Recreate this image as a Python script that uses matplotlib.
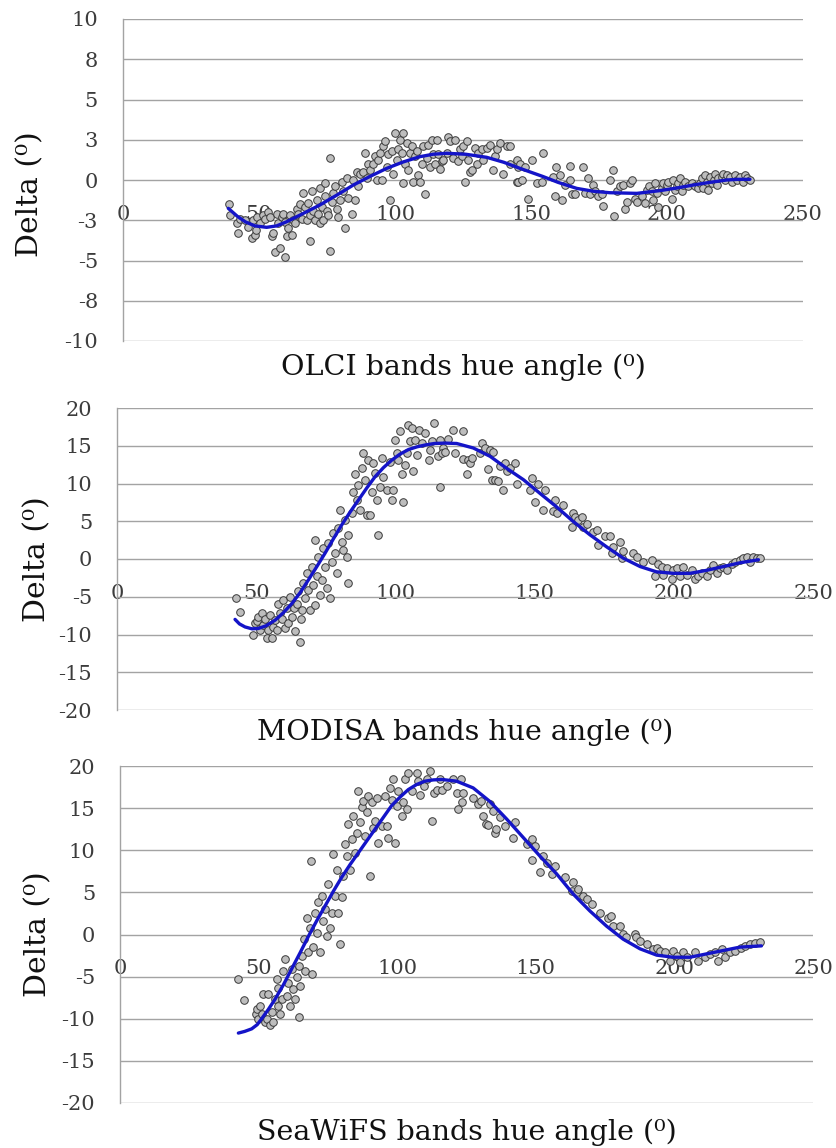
import matplotlib
matplotlib.use("Agg")
import matplotlib.pyplot as plt
from matplotlib.ticker import FixedLocator, FixedFormatter

# ---------------- data ----------------
olci_x = [39.1, 39.3, 41.8, 42.4, 43.0, 44.9, 46.1, 47.3, 47.9, 48.5, 48.9, 49.1, 50.4, 51.6, 52.2, 53.4,
          54.0, 54.7, 55.3, 55.9, 56.5, 57.1, 57.7, 58.3, 59.0, 59.6, 59.6, 60.2, 60.8, 61.4, 62.0, 62.6,
          63.2, 63.8, 64.5, 65.1, 65.7, 66.3, 66.9, 67.5, 68.1, 68.7, 68.7, 69.4, 70.0, 70.6, 71.2, 71.8,
          72.4, 72.4, 73.0, 73.7, 74.3, 74.3, 74.9, 75.5, 76.1, 76.1, 76.7, 77.3, 77.9, 78.5, 79.2, 79.8,
          80.4, 81.0, 81.6, 82.2, 82.8, 84.1, 84.7, 85.3, 85.9, 86.5, 87.1, 88.4, 89.0, 89.6, 90.2, 90.8,
          92.0, 92.6, 93.3, 93.9, 94.5, 95.1, 95.7, 96.3, 96.9, 97.5, 98.2, 98.8, 99.4, 100.0, 100.6, 101.2,
          101.8, 102.4, 102.8, 103.1, 103.7, 104.3, 104.9, 105.5, 106.1, 106.7, 107.4, 108.0, 108.6, 109.2,
          109.8, 110.4, 111.0, 111.6, 112.3, 112.9, 113.5, 114.1, 114.7, 115.3, 115.9, 116.5, 117.2, 117.8,
          119.0, 119.6, 120.2, 121.4, 122.1, 123.3, 123.9, 124.5, 125.1, 125.7, 126.3, 127.0, 127.6, 128.2,
          129.4, 130.0, 130.6, 131.9, 132.5, 133.7, 134.9, 136.2, 136.8, 137.4, 138.6, 139.8, 141.0, 142.3,
          144.7, 145.3,
          142.3, 144.8, 145.4, 146.0, 146.6, 147.8, 149.0, 150.3, 152.1, 153.9, 154.3, 158.2, 158.8, 159.2,
          160.7, 161.3, 162.5, 164.4, 164.4, 165.0, 166.2, 169.3, 169.9, 171.1, 171.7, 172.9, 173.5, 174.8,
          176.0, 176.6, 179.1, 180.3, 180.5, 181.5, 182.7, 184.0, 184.6, 185.2, 186.4, 187.0, 188.3, 188.9,
          190.7, 191.9, 192.5, 193.2, 194.4, 195.0, 195.6, 196.2, 196.8, 198.1, 198.7, 199.3, 199.9, 200.5,
          201.7, 202.3, 203.0, 203.6, 204.2, 204.8, 205.4, 206.0, 206.6, 207.9, 209.1, 210.3, 211.5, 212.2,
          212.8, 213.4, 214.0, 214.6, 215.2, 215.8, 216.4, 217.1, 217.7, 218.3, 218.9, 220.1, 220.7, 221.3,
          222.0, 223.2, 223.8, 225.0, 225.6, 226.9, 228.1, 228.7, 229.3, 230.5]
olci_y = [-1.5, -2.2, -2.7, -3.3, -2.4, -2.5, -2.9, -3.6, -2.5, -3.4, -3.1, -2.3, -2.7, -2.2, -2.4, -2.0,
          -2.3, -3.5, -3.3, -4.5, -2.1, -2.7, -4.2, -2.3, -2.1, -4.8, -2.6, -3.5, -3.0, -2.2, -3.4, -2.5,
          -2.7, -1.8, -2.1, -1.5, -2.4, -0.8, -1.7, -2.5, -1.4, -3.8, -2.2, -0.7, -1.9, -2.5, -1.25, -2.1,
          -0.5, -2.7, -1.7, -2.5, -0.2, -1.0, -1.9, -2.2, 1.35, -4.4, -1.35, -0.8, -0.4, -1.8, -2.3, -1.25,
          -0.1, -0.7, -3.0, 0.1, -1.1, -2.1, 0.0, -1.25, 0.5, -0.4, 0.4, 0.5, 1.7, 0.1, 1.0, 0.6,
          1.0, 1.5, 0.0, 1.25, 1.7, 0.0, 2.1, 2.4, 0.8, 1.6, -1.25, 1.8, 0.4, 2.9, 1.25, 1.9,
          2.5, 1.7, -0.2, 2.9, 1.0, 2.3, 0.6, 1.7, 2.1, -0.1, 1.5, 1.8, 0.3, -0.1,
          1.0, 2.1, -0.9, 1.35, 2.2, 0.8, 2.5, 1.6, 1.0, 2.5, 1.6, 0.7, 1.15, 1.25,
          1.7, 2.7, 2.4, 1.35, 2.5, 1.15, 1.9, 1.5, 2.1, -0.1, 2.4, 1.25, 0.5, 0.6,
          2.0, 1.0, 1.7, 1.9, 1.25, 2.0, 2.2, 0.6, 1.5, 1.9, 2.3, 0.4, 2.1, 1.0,
          -0.1, 0.8,
          2.1, 1.25, -0.1, 1.0, 0.0, 0.8, -1.15, 1.25, -0.2, -0.1, 1.7, 0.2, -1.0, 0.8,
          0.3, -1.25, -0.3, 0.0, 0.9, -0.9, -0.9, 0.8, -0.8, 0.1, -0.9, -0.3, -0.7, -1.0,
          -0.9, -1.6, 0.0, 0.6, -2.25, -0.7, -0.4, -0.3, -1.8, -1.35, -0.2, 0.0, -1.15, -1.35,
          -1.0, -1.45, -0.6, -0.4, -0.7, -1.25, -0.2, -0.8, -1.7, -0.5, -0.2, -0.7, -0.3, -0.1,
          -1.15, 0.0, -0.6, -0.4, -0.2, 0.1, -0.7, -0.3, -0.1, -0.4, -0.2, -0.4, -0.5, -0.2,
          0.1, -0.5, 0.3, -0.1, -0.6, 0.2, -0.2, 0.0, 0.4, -0.3, 0.1, 0.2, 0.4, 0.0,
          0.3, 0.2, -0.1, 0.3, 0.0, 0.2, -0.1, 0.3, 0.1, 0.0]
olci_fit_x = [38.7, 42.0, 45.0, 48.5, 52.8, 56.5, 60.2, 66.0, 72.4, 78.5, 84.7, 90.8, 96.9, 103.0, 109.2,
              114.0, 119.0, 126.0, 133.7, 140.0, 146.0, 154.5, 160.0, 166.8, 173.0, 179.0, 188.9,
              197.4, 203.5, 209.7, 216.0, 222.0, 226.0, 230.5]
olci_fit_y = [-1.76, -2.25, -2.6, -2.85, -2.94, -2.85, -2.59, -2.1, -1.55, -0.95, -0.31, 0.22, 0.72, 1.12,
              1.45, 1.6, 1.66, 1.6, 1.41, 1.1, 0.72, 0.21, -0.15, -0.52, -0.7, -0.79, -0.83,
              -0.66, -0.5, -0.31, -0.14, 0.0, 0.04, 0.04]

modis_x = [42.6, 44.2, 49.0, 49.6, 50.2, 50.8, 51.4, 52.0, 52.6, 53.2, 53.8, 54.4, 55.0, 55.6, 56.2, 56.8,
           57.4, 58.0, 58.6, 59.2, 59.8, 60.4, 61.0, 61.6, 62.2, 62.8, 63.4, 64.0, 64.5, 65.1, 65.7, 66.1,
           66.3, 66.9, 67.5, 68.1, 68.7, 69.3, 69.9, 70.5, 71.1, 71.1, 71.7, 72.3, 72.9, 73.5, 74.1, 74.7,
           75.3, 75.9, 76.5, 77.1, 77.7, 78.3, 78.9, 79.5, 80.1, 80.7, 81.3, 81.9, 82.5, 82.9, 83.1, 84.3,
           84.9, 85.5, 86.1, 86.7, 87.3, 87.9, 88.5, 89.1, 89.7, 90.3, 90.9, 91.5, 92.1, 92.7, 93.3, 93.9,
           94.5, 95.1, 95.7, 96.9, 98.1, 98.7, 99.3, 99.9, 100.5, 101.1, 101.7, 102.3, 102.9, 103.5, 104.1,
           104.4, 105.3, 105.9, 106.5, 107.1, 107.7, 108.3, 109.5, 110.7, 111.9, 112.5, 113.1, 113.7, 115.4,
           116.0, 117.2,
           116.0, 116.6, 117.8, 119.0, 120.8, 121.4, 124.4, 124.4, 125.6, 126.2, 126.8, 127.4, 130.4, 131.0,
           132.2, 133.4, 134.0, 134.6, 135.2, 135.8, 137.0, 137.6, 138.8, 139.4, 140.0, 141.1, 142.9, 143.5,
           148.3, 148.9, 150.1, 151.3, 153.1, 153.7, 156.7, 157.3, 157.9, 160.3, 163.3, 163.9, 164.5, 165.7,
           166.9, 167.5, 168.7, 171.1, 172.3, 172.9, 175.3, 177.1, 177.7, 178.3, 180.7, 181.3, 181.9, 185.5,
           186.7, 189.1, 192.0, 193.2, 194.4, 195.6, 196.2, 197.4, 199.2, 199.8, 201.0, 202.2, 203.4, 204.6,
           206.4, 207.6, 208.8, 210.0, 211.8, 213.0, 214.2, 215.4, 216.6, 217.8, 219.0, 220.8, 222.0, 223.8,
           225.0, 226.2, 227.4, 228.6, 229.8, 231.0]
modis_y = [-5.1, -7.0, -10.1, -8.5, -8.2, -7.7, -9.4, -7.2, -8.8, -7.9, -10.5, -9.4, -7.4, -10.5, -9.0, -8.1,
           -9.4, -5.9, -7.2, -7.9, -5.4, -9.2, -6.5, -8.5, -5.0, -7.7, -6.5, -9.6, -5.9, -4.3, -11.0, -7.9,
           -6.8, -3.2, -5.2, -1.9, -4.1, -6.8, -1.0, -3.5, 2.5, -6.1, -2.3, 0.3, -4.8, -2.8, 1.4, -1.0,
           -3.9, 2.1, -5.2, -0.35, 3.4, 0.75, -1.9, 4.1, 6.5, 2.3, 1.2, 5.2, 0.3, -3.2, 3.2, 6.1,
           8.9, 11.2, 7.8, 9.8, 6.5, 12.0, 14.0, 10.5, 5.8, 13.1, 5.8, 8.9, 12.7, 11.4, 7.8, 3.2,
           9.6, 13.4, 10.9, 9.2, 12.9, 7.8, 9.2, 15.8, 14.0, 13.1, 16.9, 11.2, 7.6, 12.5, 14.0,
           17.8, 15.6, 17.3, 11.6, 15.8, 13.8, 17.1, 15.4, 16.7, 13.1, 14.5, 15.6, 18.0, 13.6,
           9.6, 14.7,
           15.8, 14.0, 14.2, 15.9, 17.1, 14.1, 17.0, 13.2, 11.2, 13.1, 12.7, 13.4, 14.0, 15.4,
           14.7, 11.9, 14.5, 10.5, 14.2, 10.4, 10.3, 12.3, 9.2, 12.7, 11.6, 12.0, 12.7, 10.0,
           9.2, 10.7, 7.6, 10.0, 6.5, 9.2, 6.3, 7.8, 6.1, 7.2, 4.3, 6.1, 5.6, 5.2,
           5.6, 4.3, 4.7, 3.6, 3.8, 1.9, 3.0, 3.1, 0.75, 1.6, 2.2, 0.1, 1.0, 0.75,
           0.3, -0.35, -0.1, -2.3, -0.6, -1.0, -2.1, -1.2, -2.6, -1.5, -1.2, -2.3, -1.0, -2.1,
           -1.5, -2.6, -2.3, -1.9, -2.3, -1.5, -0.8, -1.9, -1.2, -1.0, -1.5, -0.6, -0.35, -0.1,
           0.1, 0.3, -0.35, 0.3, 0.1, 0.1]
modis_fit_x = [42.4, 44.0, 46.0, 48.5, 50.8, 53.5, 56.8, 59.8, 62.8, 65.8, 68.7, 71.7, 74.7, 77.7, 80.7,
               83.7, 86.7, 89.7, 92.7, 95.7, 98.7, 101.7, 104.7, 107.7, 110.7, 114.0, 117.8,
               122.0, 128.0, 134.0, 140.0, 146.0, 151.9, 157.9, 163.9, 169.9, 175.9, 181.9, 187.9,
               193.8, 199.8, 205.8, 211.8, 217.8, 223.8, 230.4]
modis_fit_y = [-8.0, -8.6, -9.0, -9.25, -9.2, -8.85, -8.1, -7.1, -5.9, -4.45, -2.8, -1.05, 0.75, 2.65, 4.5,
               6.2, 7.8, 9.4, 10.9, 12.1, 13.1, 13.9, 14.5, 14.85, 15.1, 15.3, 15.35,
               15.3, 14.7, 13.6, 12.0, 10.5, 8.7, 6.9, 4.96, 3.2, 1.6, 0.1, -1.0,
               -1.7, -1.9, -1.9, -1.5, -1.0, -0.5, -0.1]

seawifs_x = [42.7, 44.9, 49.0, 49.3, 49.9, 50.5, 51.1, 51.7, 52.3, 52.9, 53.5, 54.1, 54.7, 55.3, 55.9, 56.5,
             56.9, 57.1, 57.7, 58.3, 58.9, 59.5, 60.1, 60.7, 61.3, 61.9, 62.5, 63.2, 63.8, 64.4, 64.6, 65.0,
             65.6, 66.2, 66.8, 67.4, 68.0, 68.6, 68.9, 69.2, 69.8, 70.4, 71.0, 71.6, 72.2, 72.8, 73.4, 74.0,
             74.6, 75.2, 75.8, 76.4, 77.0, 77.6, 78.2, 78.8, 79.4, 80.0, 80.6, 81.2, 81.8, 82.4, 83.0, 83.6,
             84.2, 84.8, 85.4, 86.0, 86.6, 87.2, 87.8, 88.4, 89.0, 89.6, 90.2, 90.8, 91.4, 92.0, 92.6, 93.2,
             94.4, 95.6, 96.2, 96.8, 97.4, 98.0, 98.6, 99.2, 99.8, 100.4, 101.6, 102.2, 102.8, 103.4, 104.0,
             105.2, 107.0, 107.6, 108.2, 109.5, 110.7, 111.9, 112.5, 113.1, 114.3, 115.5,
             116.0, 117.8, 120.2, 121.4, 122.0, 122.9, 123.2, 123.8, 127.4, 129.2, 130.4, 131.0, 132.2, 132.8,
             133.4, 134.6, 135.2, 135.8, 137.0, 138.9, 141.9, 142.5, 146.7, 148.5, 148.8, 149.7, 151.5, 152.7,
             153.9, 155.7, 156.9, 160.5, 162.9, 163.5, 164.7, 165.3, 167.1, 168.3, 170.1, 173.1, 176.1, 177.3,
             177.9, 180.3, 181.5, 182.7, 185.7, 186.3, 187.5, 190.0, 192.4, 193.6, 194.8, 196.6, 198.4, 199.6,
             200.8, 202.0, 203.2, 204.4, 207.4, 208.6, 211.0, 212.8, 214.6, 215.8, 217.0, 218.2, 220.0, 221.8,
             224.0, 225.4, 227.2, 229.0, 230.8]
seawifs_y = [-5.3, -7.8, -9.4, -8.9, -10.0, -8.5, -9.4, -7.1, -10.4, -10.0, -7.1, -10.8, -9.2, -10.4, -7.7, -5.3,
             -8.5, -6.3, -9.4, -7.7, -4.3, -2.9, -7.3, -5.7, -8.5, -4.1, -6.5, -7.7, -5.1, -9.8, -3.7, -6.1,
             -2.5, -0.55, -4.3, 2.0, -2.1, 0.8, 8.7, -4.7, -1.5, 2.6, 0.2, 3.8, -2.1, 4.6, 1.6, 3.0,
             -0.15, 6.0, 0.8, 2.6, 9.5, 4.6, 7.7, 2.6, -1.15, 4.4, 7.0, 10.7, 9.3, 13.1, 7.7, 11.3,
             14.1, 9.7, 12.1, 17.0, 13.3, 15.1, 15.8, 11.7, 14.5, 16.4, 7.0, 15.7, 12.7, 13.5, 16.2, 10.9,
             12.9, 16.4, 12.9, 11.5, 17.4, 16.0, 18.4, 10.9, 15.3, 17.0, 14.1, 15.7, 18.4, 14.9, 19.2,
             17.0, 19.2, 18.2, 16.6, 17.6, 18.4, 19.4, 13.5, 16.8, 17.2, 18.4,
             17.2, 17.6, 18.4, 16.8, 14.9, 18.5, 15.7, 16.8, 16.2, 15.5, 15.8, 14.1, 13.1, 13.0,
             15.5, 14.7, 12.1, 12.5, 13.9, 12.9, 11.5, 13.3, 10.7, 11.3, 8.8, 10.5, 7.4, 9.3,
             8.5, 7.2, 8.1, 6.8, 5.2, 6.2, 5.0, 5.4, 4.6, 4.2, 3.6, 2.6, 2.0, 2.2,
             1.0, 1.0, 0.05, -0.35, 0.05, -0.35, -0.75, -1.15, -1.7, -1.55, -1.9, -2.1, -3.1, -1.9,
             -2.5, -3.3, -2.1, -2.7, -2.1, -3.1, -2.7, -2.3, -2.1, -3.1, -1.7, -2.7, -2.1, -1.9,
             -1.55, -1.35, -1.15, -0.95, -0.9]
seawifs_fit_x = [42.7, 45.0, 47.5, 49.5, 51.1, 53.5, 55.9, 58.9, 61.9, 65.0, 68.0, 71.0, 74.0, 77.0, 80.0,
                 83.0, 86.0, 89.0, 92.0, 95.0, 98.0, 101.0, 104.0, 107.0, 110.0, 113.0, 116.1,
                 121.4, 127.4, 133.4, 139.5, 145.5, 151.5, 157.5, 163.5, 169.5, 175.5, 181.5, 187.6,
                 193.6, 199.6, 205.6, 211.6, 217.6, 223.6, 231.4]
seawifs_fit_y = [-11.7, -11.5, -11.2, -10.7, -10.0, -8.9, -7.7, -6.0, -4.1, -2.15, -0.2, 1.65, 3.4, 5.15, 6.8,
                 8.3, 9.7, 11.1, 12.5, 13.9, 15.3, 16.3, 17.2, 17.8, 18.2, 18.35, 18.4,
                 18.2, 17.4, 15.8, 13.7, 11.5, 9.3, 7.2, 4.8, 2.8, 1.0, -0.55, -1.7,
                 -2.45, -2.7, -2.7, -2.3, -1.9, -1.5, -1.35]

x_ticks = [0, 50, 100, 150, 200, 250]
x_tick_labels = ["0", "50", "100", "150", "200", "250"]
olci_y_ticks = [-10, -7.5, -5, -2.5, 0, 2.5, 5, 7.5, 10]
olci_y_labels = ["-10", "-8", "-5", "-3", "0", "3", "5", "8", "10"]
big_y_ticks = [-20, -15, -10, -5, 0, 5, 10, 15, 20]
big_y_labels = ["-20", "-15", "-10", "-5", "0", "5", "10", "15", "20"]
titles = ["OLCI bands hue angle (\u2070)", "MODISA bands hue angle (\u2070)",
          "SeaWiFS bands hue angle (\u2070)"]
ylabel = "Delta (\u2070)"

# ---------------- figure ----------------
plt.rcParams['font.family'] = ['DejaVu Serif']
W, H = 836, 1148
fig = plt.figure(figsize=(W / 100, H / 100), dpi=100)

panels = [
    dict(rect=(123, 19, 803, 341), x=olci_x, y=olci_y, fx=olci_fit_x, fy=olci_fit_y,
         yt=olci_y_ticks, yl=olci_y_labels, lim=(-10, 10), title=titles[0],
         ylab_xy=(30, 194), title_base=375),
    dict(rect=(117, 408, 813, 710), x=modis_x, y=modis_y, fx=modis_fit_x, fy=modis_fit_y,
         yt=big_y_ticks, yl=big_y_labels, lim=(-20, 20), title=titles[1],
         ylab_xy=(37, 559), title_base=740),
    dict(rect=(120, 766, 813, 1103), x=seawifs_x, y=seawifs_y, fx=seawifs_fit_x, fy=seawifs_fit_y,
         yt=big_y_ticks, yl=big_y_labels, lim=(-20, 20), title=titles[2],
         ylab_xy=(38, 934), title_base=1140),
]

grid_col = '#a3a3a3'
tick_col = '#3c3c3c'
for p in panels:
    l, t, r, b = p['rect']
    ax = fig.add_axes([l / W, 1 - b / H, (r - l) / W, (b - t) / H])
    ax.set_xlim(0, 250)
    ax.set_ylim(*p['lim'])
    ax.set_axisbelow(True)
    ax.yaxis.set_major_locator(FixedLocator(p['yt']))
    ax.yaxis.set_major_formatter(FixedFormatter(p['yl']))
    ax.xaxis.set_major_locator(FixedLocator(x_ticks))
    ax.xaxis.set_major_formatter(FixedFormatter(x_tick_labels))
    ax.grid(axis='y', color=grid_col, lw=1.0)
    for s in ['top', 'right']:
        ax.spines[s].set_visible(False)
    ax.spines['bottom'].set_position(('data', 0))
    ax.spines['bottom'].set_visible(False)
    ax.spines['left'].set_color(grid_col)
    ax.spines['left'].set_linewidth(1.0)
    ax.tick_params(axis='both', length=0, labelsize=15, labelcolor=tick_col)
    ax.tick_params(axis='y', pad=18)
    ax.tick_params(axis='x', pad=18)

    ax.scatter(p['x'], p['y'], s=30, facecolor='#bdbdbd', edgecolor='#3a3a3a',
               linewidths=0.7, zorder=2, clip_on=False)
    ax.plot(p['fx'], p['fy'], color='#1414c8', lw=2.4, zorder=3,
            solid_capstyle='round', solid_joinstyle='round')

    cx = (l + r) / 2
    fig.text(cx / W, 1 - p['title_base'] / H, p['title'], ha='center', va='baseline',
             fontsize=20.5, color='#111111')
    yx, yy = p['ylab_xy']
    fig.text(yx / W, 1 - yy / H, ylabel, ha='center', va='center', rotation=90,
             fontsize=21.5, color='#111111')

fig.savefig('out.png', dpi=100, facecolor='white')
